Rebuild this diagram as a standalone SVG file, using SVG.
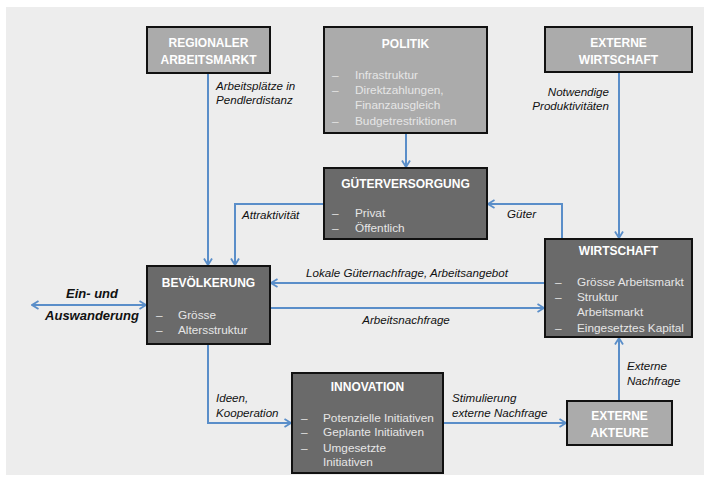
<svg xmlns="http://www.w3.org/2000/svg" width="712" height="482" viewBox="0 0 712 482">
<defs>
<marker id="ah" viewBox="0 0 10 10" markerWidth="10" markerHeight="10" markerUnits="userSpaceOnUse" refX="8.5" refY="5" orient="auto-start-reverse">
<path d="M2,1 L8.5,5 L2,9" fill="none" stroke="#5a8ec9" stroke-width="1.8"/>
</marker>
</defs>
<style>
.bg{fill:#ededed}
.light{fill:#ababab;stroke:#111;stroke-width:2}
.dark{fill:#6a6a6a;stroke:#111;stroke-width:2}
.title{font-family:"Liberation Sans",Arial,sans-serif;font-weight:bold;font-size:12px;fill:#fff;text-anchor:middle}
.item{font-family:"Liberation Sans",Arial,sans-serif;font-size:11.8px;fill:#e6e6e6}
.lbl{font-family:"Liberation Sans",Arial,sans-serif;font-style:italic;font-size:11.6px;fill:#111}
.big{font-family:"Liberation Sans",Arial,sans-serif;font-style:italic;font-weight:bold;font-size:13px;fill:#111;text-anchor:middle}
.c{fill:none;stroke:#5a8ec9;stroke-width:2}
</style>
<rect class="bg" x="6" y="7" width="698" height="468"/>

<g id="connectors">
<path class="c" d="M208,73 V265" marker-end="url(#ah)"/>
<path class="c" d="M406,133 V167" marker-end="url(#ah)"/>
<path class="c" d="M619,72 V238" marker-end="url(#ah)"/>
<path class="c" d="M324,204 H235 V265" marker-end="url(#ah)"/>
<path class="c" d="M562,239 V204 H488" marker-end="url(#ah)"/>
<path class="c" d="M545,283 H271" marker-end="url(#ah)"/>
<path class="c" d="M270,308 H544" marker-end="url(#ah)"/>
<path class="c" d="M32,305 H146" marker-start="url(#ah)" marker-end="url(#ah)"/>
<path class="c" d="M208,344 V423 H291" marker-end="url(#ah)"/>
<path class="c" d="M443,423 H566" marker-end="url(#ah)"/>
<path class="c" d="M619,401 V338" marker-end="url(#ah)"/>
<text class="lbl" x="216" y="90">Arbeitsplätze in</text>
<text class="lbl" x="216" y="104">Pendlerdistanz</text>
<text class="lbl" x="609" y="96" text-anchor="end">Notwendige</text>
<text class="lbl" x="609" y="110" text-anchor="end">Produktivitäten</text>
<text class="lbl" x="242" y="219">Attraktivität</text>
<text class="lbl" x="507" y="218">Güter</text>
<text class="lbl" x="407" y="277" text-anchor="middle">Lokale Güternachfrage, Arbeitsangebot</text>
<text class="lbl" x="406" y="324" text-anchor="middle">Arbeitsnachfrage</text>
<text class="big" x="92" y="298">Ein- und</text>
<text class="big" x="92" y="320">Auswanderung</text>
<text class="lbl" x="216" y="402">Ideen,</text>
<text class="lbl" x="216" y="417">Kooperation</text>
<text class="lbl" x="452" y="402">Stimulierung</text>
<text class="lbl" x="452" y="417">externe Nachfrage</text>
<text class="lbl" x="627" y="370">Externe</text>
<text class="lbl" x="627" y="385">Nachfrage</text>
</g>

<g id="regionaler-arbeitsmarkt">
<rect class="light" x="147" y="27" width="123" height="46"/>
<text class="title" x="208.5" y="47">REGIONALER</text>
<text class="title" x="208.5" y="64">ARBEITSMARKT</text>
</g>

<g id="politik">
<rect class="light" x="324" y="27" width="163" height="106"/>
<text class="title" x="405.5" y="48">POLITIK</text>
<text class="item" x="332" y="79">–</text><text class="item" x="355" y="79">Infrastruktur</text>
<text class="item" x="332" y="94">–</text><text class="item" x="355" y="94">Direktzahlungen,</text>
<text class="item" x="355" y="109">Finanzausgleich</text>
<text class="item" x="332" y="125">–</text><text class="item" x="355" y="125">Budgetrestriktionen</text>
</g>

<g id="externe-wirtschaft">
<rect class="light" x="545" y="27" width="147" height="45"/>
<text class="title" x="618.5" y="47">EXTERNE</text>
<text class="title" x="618.5" y="64">WIRTSCHAFT</text>
</g>

<g id="gueterversorgung">
<rect class="dark" x="324" y="168" width="163" height="71"/>
<text class="title" x="405.5" y="188">GÜTERVERSORGUNG</text>
<text class="item" x="332" y="217">–</text><text class="item" x="355" y="217">Privat</text>
<text class="item" x="332" y="232">–</text><text class="item" x="355" y="232">Öffentlich</text>
</g>

<g id="wirtschaft">
<rect class="dark" x="545" y="239" width="147" height="98"/>
<text class="title" x="618.5" y="255">WIRTSCHAFT</text>
<text class="item" x="555" y="286">–</text><text class="item" x="577" y="286">Grösse Arbeitsmarkt</text>
<text class="item" x="555" y="301">–</text><text class="item" x="577" y="301">Struktur</text>
<text class="item" x="577" y="316">Arbeitsmarkt</text>
<text class="item" x="555" y="332">–</text><text class="item" x="577" y="332">Eingesetztes Kapital</text>
</g>

<g id="bevoelkerung">
<rect class="dark" x="147" y="266" width="123" height="78"/>
<text class="title" x="208.5" y="287">BEVÖLKERUNG</text>
<text class="item" x="156" y="319">–</text><text class="item" x="178" y="319">Grösse</text>
<text class="item" x="156" y="334">–</text><text class="item" x="178" y="334">Altersstruktur</text>
</g>

<g id="innovation">
<rect class="dark" x="292" y="373" width="151" height="100"/>
<text class="title" x="367.5" y="391">INNOVATION</text>
<text class="item" x="301" y="422">–</text><text class="item" x="323" y="422">Potenzielle Initiativen</text>
<text class="item" x="301" y="436">–</text><text class="item" x="323" y="436">Geplante Initiativen</text>
<text class="item" x="301" y="452">–</text><text class="item" x="323" y="452">Umgesetzte</text>
<text class="item" x="323" y="466">Initiativen</text>
</g>

<g id="externe-akteure">
<rect class="light" x="567" y="401" width="105" height="44"/>
<text class="title" x="619.5" y="420">EXTERNE</text>
<text class="title" x="619.5" y="437">AKTEURE</text>
</g>
</svg>
